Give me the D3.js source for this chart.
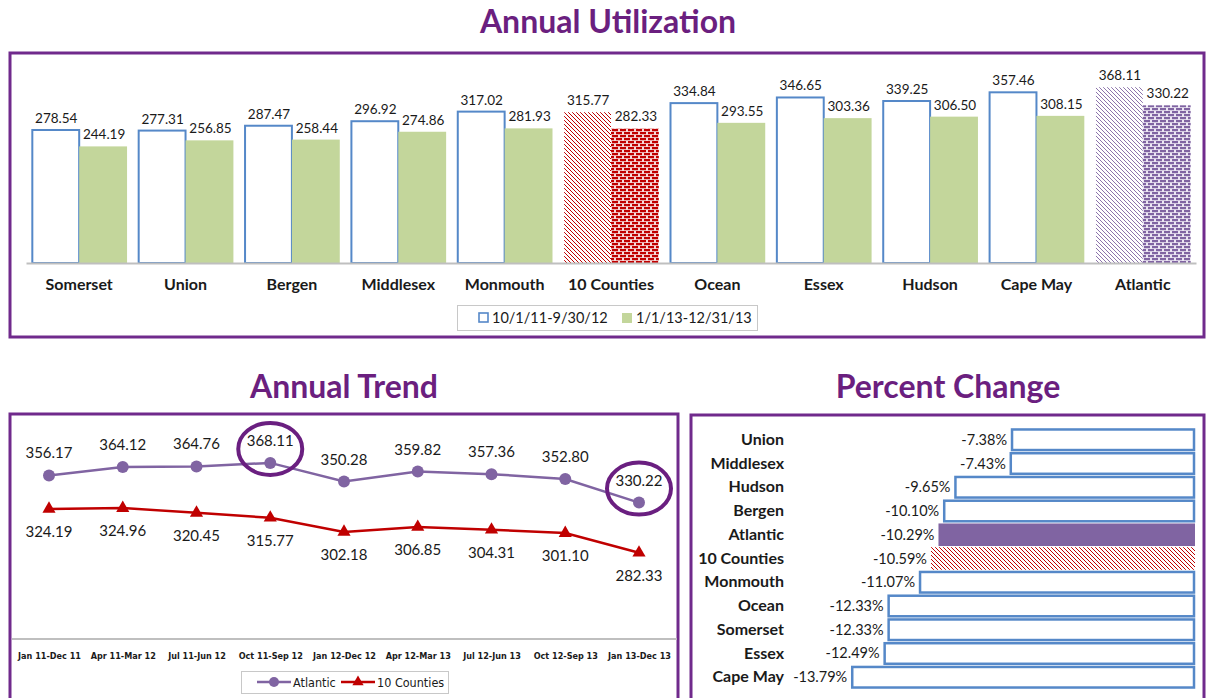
<!DOCTYPE html>
<html><head><meta charset="utf-8">
<script src="https://cdn.jsdelivr.net/npm/d3@7"></script>
<style>
body{margin:0;background:#fff;}
svg{display:block;font-family:Lato,"Open Sans",sans-serif;}
</style></head><body>
<svg id="c" width="1207" height="698"></svg>
<script>
// ---- data ----
const counties = ["Somerset","Union","Bergen","Middlesex","Monmouth","10 Counties","Ocean","Essex","Hudson","Cape May","Atlantic"];
const period1 = [278.54,277.31,287.47,296.92,317.02,315.77,334.84,346.65,339.25,357.46,368.11];
const period2 = [244.19,256.85,258.44,274.86,281.93,282.33,293.55,303.36,306.50,308.15,330.22];
const periodNames = ["10/1/11-9/30/12","1/1/13-12/31/13"];

const trendPeriods = ["Jan 11-Dec 11","Apr 11-Mar 12","Jul 11-Jun 12","Oct 11-Sep 12","Jan 12-Dec 12","Apr 12-Mar 13","Jul 12-Jun 13","Oct 12-Sep 13","Jan 13-Dec 13"];
const atlanticTrend = [356.17,364.12,364.76,368.11,350.28,359.82,357.36,352.80,330.22];
const countiesTrend = [324.19,324.96,320.45,315.77,302.18,306.85,304.31,301.10,282.33];
const trendSeries = ["Atlantic","10 Counties"];
const circledPeriods = ["Oct 11-Sep 12","Jan 13-Dec 13"];

const changeCats = ["Union","Middlesex","Hudson","Bergen","Atlantic","10 Counties","Monmouth","Ocean","Somerset","Essex","Cape May"];
const changeVals = [-7.38,-7.43,-9.65,-10.10,-10.29,-10.59,-11.07,-12.33,-12.33,-12.49,-13.79];

// ---- palette ----
const FRAME = "#702a8c", TITLE = "#6b1f7f", BLUE = "#5588c8", GREEN = "#c3d69b",
      RED = "#c00000", VIOLET = "#8064a2", AXIS = "#bfbfbf", INK = "#1a1a1a";
const NARROW = "'Liberation Sans Narrow','DejaVu Sans Condensed',sans-serif";

const svg = d3.select("#c");
const defs = svg.append("defs");

function hatch(id, color, w) {
  const p = defs.append("pattern").attr("id", id).attr("patternUnits", "userSpaceOnUse")
    .attr("width", 4).attr("height", 4);
  p.append("rect").attr("width", 4).attr("height", 4).attr("fill", "#fff");
  p.append("path").attr("d", "M-1,-1 L5,5 M-1,3 L1,5 M3,-1 L5,1")
    .attr("stroke", color).attr("stroke-width", w);
}
function brick(id, color, mortar) {
  const p = defs.append("pattern").attr("id", id).attr("patternUnits", "userSpaceOnUse")
    .attr("width", 8).attr("height", 6);
  p.append("rect").attr("width", 8).attr("height", 6).attr("fill", mortar);
  p.append("rect").attr("x", 0).attr("y", 0).attr("width", 6).attr("height", 2.2).attr("fill", color);
  p.append("rect").attr("x", 4).attr("y", 3).attr("width", 6).attr("height", 2.2).attr("fill", color);
  p.append("rect").attr("x", -4).attr("y", 3).attr("width", 6).attr("height", 2.2).attr("fill", color);
}
hatch("hatchRed", RED, 1.0);
hatch("hatchViolet", VIOLET, 0.9);
brick("brickRed", RED, "#f6d9d9");
brick("brickViolet", VIOLET, "#ece6f3");

function fill1(c) { return c === "10 Counties" ? "url(#hatchRed)" : c === "Atlantic" ? "url(#hatchViolet)" : "#fff"; }
function fill2(c) { return c === "10 Counties" ? "url(#brickRed)" : c === "Atlantic" ? "url(#brickViolet)" : GREEN; }

// ---- titles & frames ----
function title(x, y, t) {
  svg.append("text").attr("x", x).attr("y", y).attr("text-anchor", "middle")
    .attr("font-size", 32).attr("font-weight", 700).attr("fill", TITLE).text(t);
}
title(608, 33, "Annual Utilization");
title(344, 398, "Annual Trend");
title(948, 398, "Percent Change");

function frame(x, y, w, h) {
  svg.append("rect").attr("x", x).attr("y", y).attr("width", w).attr("height", h)
    .attr("fill", "none").attr("stroke", FRAME).attr("stroke-width", 3);
}
frame(10, 53, 1194, 284);
frame(10, 414, 668, 300);
frame(691, 415, 513, 300);

// ---- Annual Utilization: grouped columns ----
const xb = d3.scaleBand().domain(counties).range([26, 1196]).paddingInner(0.1).paddingOuter(0.05);
const yb = d3.scaleLinear().domain([0, 400]).range([263, 72]);
const bw = xb.bandwidth() / 2;

const grp = svg.append("g");
counties.forEach((c, i) => {
  const x0 = xb(c);
  grp.append("rect").attr("x", x0 + 1).attr("y", yb(period1[i]))
    .attr("width", bw - 1).attr("height", yb(0) - yb(period1[i]))
    .attr("fill", fill1(c))
    .attr("stroke", c === "10 Counties" || c === "Atlantic" ? "none" : BLUE).attr("stroke-width", 2);
  grp.append("rect").attr("x", x0 + bw).attr("y", yb(period2[i]))
    .attr("width", bw).attr("height", yb(0) - yb(period2[i]))
    .attr("fill", fill2(c));
  grp.append("text").attr("x", x0 + bw / 2 + 1).attr("y", yb(period1[i]) - 7)
    .attr("text-anchor", "middle").attr("font-size", 13.5).attr("fill", INK).text(period1[i].toFixed(2));
  grp.append("text").attr("x", x0 + bw * 1.5 + 1).attr("y", yb(period2[i]) - 7)
    .attr("text-anchor", "middle").attr("font-size", 13.5).attr("fill", INK).text(period2[i].toFixed(2));
});
const xAxisB = svg.append("g").attr("transform", `translate(0,${yb(0)})`)
  .call(d3.axisBottom(xb).tickSize(0).tickPadding(16));
xAxisB.select(".domain").attr("stroke", AXIS).attr("stroke-width", 2);
xAxisB.selectAll("text").attr("font-size", 16).attr("font-weight", 700).attr("fill", INK)
  .attr("font-family", "Lato, sans-serif");

// legend
const lg = svg.append("g");
lg.append("rect").attr("x", 457.5).attr("y", 305.5).attr("width", 300).attr("height", 25)
  .attr("fill", "#fff").attr("stroke", "#c8c8c8");
lg.append("rect").attr("x", 479).attr("y", 313).attr("width", 9).attr("height", 9)
  .attr("fill", "#fff").attr("stroke", BLUE).attr("stroke-width", 1.6);
lg.append("text").attr("x", 492).attr("y", 323).attr("font-size", 14.5).attr("fill", INK).text(periodNames[0]);
lg.append("rect").attr("x", 622).attr("y", 313).attr("width", 10).attr("height", 10).attr("fill", GREEN);
lg.append("text").attr("x", 636).attr("y", 323).attr("font-size", 14.5).attr("fill", INK).text(periodNames[1]);

// ---- Annual Trend: lines ----
const xt = d3.scalePoint().domain(trendPeriods).range([49, 639]);
const yt = d3.scaleLinear().domain([200, 400]).range([639, 429.5]);
const line = d3.line().x((d, i) => xt(trendPeriods[i])).y(d => yt(d));

const tg = svg.append("g");
const xAxisT = tg.append("g").attr("transform", `translate(0,${yt(200)})`)
  .call(d3.axisBottom(xt).tickSize(0).tickPadding(14));
xAxisT.select(".domain").remove();
tg.append("line").attr("x1", 12).attr("x2", 677).attr("y1", yt(200)).attr("y2", yt(200))
  .attr("stroke", AXIS).attr("stroke-width", 2);
xAxisT.selectAll("text").attr("font-size", 9).attr("font-weight", 700).attr("fill", INK)
  .attr("font-family", NARROW);

tg.append("path").datum(atlanticTrend).attr("d", line).attr("fill", "none")
  .attr("stroke", VIOLET).attr("stroke-width", 2.5);
tg.append("path").datum(countiesTrend).attr("d", line).attr("fill", "none")
  .attr("stroke", RED).attr("stroke-width", 2.5);

atlanticTrend.forEach((v, i) => {
  const x = xt(trendPeriods[i]);
  tg.append("circle").attr("cx", x).attr("cy", yt(v)).attr("r", 6).attr("fill", VIOLET);
  tg.append("text").attr("x", x).attr("y", yt(v) - 17).attr("text-anchor", "middle")
    .attr("font-size", 15).attr("fill", INK).text(v.toFixed(2));
});
countiesTrend.forEach((v, i) => {
  const x = xt(trendPeriods[i]);
  tg.append("path").attr("d", d3.symbol(d3.symbolTriangle).size(75)())
    .attr("transform", `translate(${x},${yt(v)})`).attr("fill", RED);
  tg.append("text").attr("x", x).attr("y", yt(v) + 28).attr("text-anchor", "middle")
    .attr("font-size", 15).attr("fill", INK).text(v.toFixed(2));
});
circledPeriods.forEach(p => {
  const i = trendPeriods.indexOf(p);
  tg.append("ellipse").attr("cx", xt(p)).attr("cy", yt(atlanticTrend[i]) - 14)
    .attr("rx", 32).attr("ry", 26).attr("fill", "none").attr("stroke", "#6a1f80").attr("stroke-width", 4);
});

// trend legend
const tl = svg.append("g");
tl.append("rect").attr("x", 241.5).attr("y", 671.5).attr("width", 207).attr("height", 22)
  .attr("fill", "#fff").attr("stroke", "#c8c8c8");
tl.append("line").attr("x1", 257).attr("x2", 291).attr("y1", 682).attr("y2", 682).attr("stroke", VIOLET).attr("stroke-width", 2.5);
tl.append("circle").attr("cx", 274).attr("cy", 682).attr("r", 5).attr("fill", VIOLET);
tl.append("text").attr("x", 293).attr("y", 687).attr("font-size", 12.5).attr("fill", INK)
  .attr("font-family", NARROW).text(trendSeries[0]);
tl.append("line").attr("x1", 341).attr("x2", 375).attr("y1", 682).attr("y2", 682).attr("stroke", RED).attr("stroke-width", 2.5);
tl.append("path").attr("d", d3.symbol(d3.symbolTriangle).size(55)()).attr("transform", "translate(358,682)").attr("fill", RED);
tl.append("text").attr("x", 377).attr("y", 687).attr("font-size", 12.5).attr("fill", INK)
  .attr("font-family", NARROW).text(trendSeries[1]);

// ---- Percent Change: horizontal bars ----
const yc = d3.scaleBand().domain(changeCats).range([428, 689]).paddingInner(0.05).paddingOuter(0.02);
const xc = d3.scaleLinear().domain([-14, 0]).range([846, 1195]);
const cg = svg.append("g");
changeCats.forEach((c, i) => {
  const v = changeVals[i];
  const y = yc(c), h = yc.bandwidth();
  const r = cg.append("rect").attr("x", xc(v)).attr("y", y).attr("width", xc(0) - xc(v)).attr("height", h);
  if (c === "Atlantic") r.attr("fill", VIOLET);
  else if (c === "10 Counties") r.attr("fill", "url(#hatchRed)");
  else r.attr("x", xc(v) + 1).attr("y", y + 1).attr("width", xc(0) - xc(v) - 2).attr("height", h - 2)
        .attr("fill", "#fff").attr("stroke", BLUE).attr("stroke-width", 2.5);
  cg.append("text").attr("x", xc(v) - 4).attr("y", y + h / 2 + 5).attr("text-anchor", "end")
    .attr("font-size", 14.5).attr("fill", INK).text(v.toFixed(2) + "%");
});
const yAxisC = svg.append("g").attr("transform", "translate(784,0)")
  .call(d3.axisLeft(yc).tickSize(0).tickPadding(0));
yAxisC.select(".domain").remove();
yAxisC.selectAll("text").attr("font-size", 16).attr("font-weight", 700).attr("fill", INK)
  .attr("font-family", "Lato, sans-serif");
</script>
</body></html>
